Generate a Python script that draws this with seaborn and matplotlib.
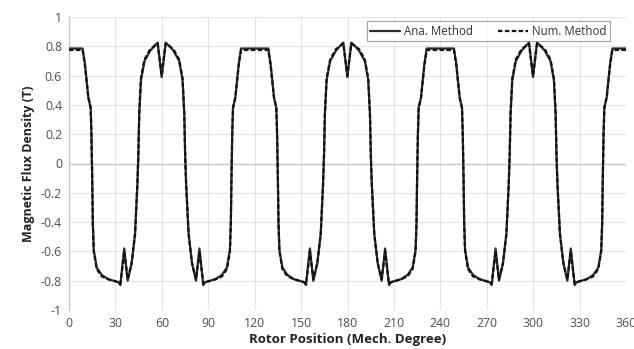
import matplotlib
matplotlib.use("Agg")
import matplotlib.pyplot as plt
import seaborn as sns
import pandas as pd

# Rotor position (mechanical degrees)
rotor_pos = [
    0, 8.8, 10.3, 12.5, 14.0, 14.5, 15.0, 15.4, 16.0, 17.9, 21.1, 25.4, 31.9, 33.2, 35.7, 37.9,
    40.5, 42.7, 44.2, 44.8, 45.4, 46.5, 48.8, 52.5, 55.0, 57.3, 59.9, 62.5, 65.0, 67.5, 71.2,
    73.4, 74.5, 75.1, 75.7, 77.3, 79.5, 82.1, 84.3, 86.8, 88.1, 94.6, 98.9, 102.1, 104.0,
    104.6, 105.0, 105.5, 106.0, 107.5, 109.7, 111.2,
    120, 128.8, 130.3, 132.5, 134.0, 134.5, 135.0, 135.4, 136.0, 137.9, 141.1, 145.4, 151.9,
    153.2, 155.7, 157.9, 160.5, 162.7, 164.2, 164.8, 165.4, 166.5, 168.8, 172.5, 175.0, 177.3,
    179.9, 182.5, 185.0, 187.5, 191.2, 193.4, 194.5, 195.1, 195.7, 197.3, 199.5, 202.1, 204.3,
    206.8, 208.1, 214.6, 218.9, 222.1, 224.0, 224.6, 225.0, 225.5, 226.0, 227.5, 229.7, 231.2,
    240, 248.8, 250.3, 252.5, 254.0, 254.5, 255.0, 255.4, 256.0, 257.9, 261.1, 265.4, 271.9,
    273.2, 275.7, 277.9, 280.5, 282.7, 284.2, 284.8, 285.4, 286.5, 288.8, 292.5, 295.0, 297.3,
    299.9, 302.5, 305.0, 307.5, 311.2, 313.4, 314.5, 315.1, 315.7, 317.3, 319.5, 322.1, 324.3,
    326.8, 328.1, 334.6, 338.9, 342.1, 344.0, 344.6, 345.0, 345.5, 346.0, 347.5, 349.7, 351.2,
    360,
]

# Analytical method (T)
ana_method = [
    0.785, 0.785, 0.68, 0.45, 0.38, 0.20, -0.10, -0.40, -0.59, -0.71, -0.76, -0.79, -0.81, -0.83, -0.58, -0.80,
    -0.68, -0.48, -0.14, 0.05, 0.34, 0.57, 0.70, 0.77, 0.80, 0.825, 0.59, 0.825, 0.80, 0.77, 0.70,
    0.57, 0.34, 0.05, -0.14, -0.48, -0.68, -0.80, -0.58, -0.83, -0.81, -0.79, -0.76, -0.71, -0.59,
    -0.40, -0.10, 0.20, 0.38, 0.45, 0.68, 0.785,
    0.785, 0.785, 0.68, 0.45, 0.38, 0.20, -0.10, -0.40, -0.59, -0.71, -0.76, -0.79, -0.81,
    -0.83, -0.58, -0.80, -0.68, -0.48, -0.14, 0.05, 0.34, 0.57, 0.70, 0.77, 0.80, 0.825,
    0.59, 0.825, 0.80, 0.77, 0.70, 0.57, 0.34, 0.05, -0.14, -0.48, -0.68, -0.80, -0.58,
    -0.83, -0.81, -0.79, -0.76, -0.71, -0.59, -0.40, -0.10, 0.20, 0.38, 0.45, 0.68, 0.785,
    0.785, 0.785, 0.68, 0.45, 0.38, 0.20, -0.10, -0.40, -0.59, -0.71, -0.76, -0.79, -0.81,
    -0.83, -0.58, -0.80, -0.68, -0.48, -0.14, 0.05, 0.34, 0.57, 0.70, 0.77, 0.80, 0.825,
    0.59, 0.825, 0.80, 0.77, 0.70, 0.57, 0.34, 0.05, -0.14, -0.48, -0.68, -0.80, -0.58,
    -0.83, -0.81, -0.79, -0.76, -0.71, -0.59, -0.40, -0.10, 0.20, 0.38, 0.45, 0.68, 0.785,
    0.785,
]

# Numerical method (T)
num_method = [
    0.775, 0.775, 0.67, 0.45, 0.38, 0.20, -0.10, -0.41, -0.60, -0.72, -0.77, -0.79, -0.81, -0.82, -0.60, -0.79,
    -0.68, -0.48, -0.14, 0.05, 0.34, 0.58, 0.71, 0.78, 0.80, 0.82, 0.60, 0.82, 0.80, 0.78, 0.71,
    0.58, 0.34, 0.05, -0.14, -0.48, -0.68, -0.79, -0.60, -0.82, -0.81, -0.79, -0.77, -0.72, -0.60,
    -0.41, -0.10, 0.20, 0.38, 0.45, 0.67, 0.775,
    0.775, 0.775, 0.67, 0.45, 0.38, 0.20, -0.10, -0.41, -0.60, -0.72, -0.77, -0.79, -0.81,
    -0.82, -0.60, -0.79, -0.68, -0.48, -0.14, 0.05, 0.34, 0.58, 0.71, 0.78, 0.80, 0.82,
    0.60, 0.82, 0.80, 0.78, 0.71, 0.58, 0.34, 0.05, -0.14, -0.48, -0.68, -0.79, -0.60,
    -0.82, -0.81, -0.79, -0.77, -0.72, -0.60, -0.41, -0.10, 0.20, 0.38, 0.45, 0.67, 0.775,
    0.775, 0.775, 0.67, 0.45, 0.38, 0.20, -0.10, -0.41, -0.60, -0.72, -0.77, -0.79, -0.81,
    -0.82, -0.60, -0.79, -0.68, -0.48, -0.14, 0.05, 0.34, 0.58, 0.71, 0.78, 0.80, 0.82,
    0.60, 0.82, 0.80, 0.78, 0.71, 0.58, 0.34, 0.05, -0.14, -0.48, -0.68, -0.79, -0.60,
    -0.82, -0.81, -0.79, -0.77, -0.72, -0.60, -0.41, -0.10, 0.20, 0.38, 0.45, 0.67, 0.775,
    0.775,
]

x_ticks = [0, 30, 60, 90, 120, 150, 180, 210, 240, 270, 300, 330, 360]
y_ticks = [-1, -0.8, -0.6, -0.4, -0.2, 0, 0.2, 0.4, 0.6, 0.8, 1]
y_tick_labels = ["-1", "-0.8", "-0.6", "-0.4", "-0.2", "0", "0.2", "0.4", "0.6", "0.8", "1"]

sns.set_style("white")
plt.rcParams["font.family"] = ["Open Sans", "DejaVu Sans"]

df = pd.DataFrame({"pos": rotor_pos, "ana": ana_method, "num": num_method})

fig = plt.figure(figsize=(6.34, 3.49), dpi=100)
ax = fig.add_axes([69 / 634, 1 - 310 / 349, (626 - 69) / 634, (310 - 17) / 349])

sns.lineplot(data=df, x="pos", y="ana", ax=ax, color="#2b2b2b", linewidth=1.6,
             label="Ana. Method", sort=False, zorder=3)
sns.lineplot(data=df, x="pos", y="num", ax=ax, color="#111111", linewidth=1.6,
             linestyle=(0, (2.0, 1.1)), label="Num. Method", sort=False, zorder=4)
for ln in ax.get_lines():
    ln.set_solid_joinstyle("round")
    ln.set_dash_joinstyle("round")

ax.set_xlim(0, 360)
ax.set_ylim(-1, 1)
ax.set_xticks(x_ticks)
ax.set_xticklabels([str(t) for t in x_ticks])
ax.set_yticks(y_ticks)
ax.set_yticklabels(y_tick_labels)
ax.grid(True, color="#e3e3e3", linewidth=0.8, zorder=0)
ax.set_axisbelow(True)
ax.axhline(0, color="#c8c8c8", linewidth=1.0, zorder=1)
for s in ["top", "right", "bottom"]:
    ax.spines[s].set_visible(False)
ax.spines["left"].set_color("#c8c8c8")
ax.spines["left"].set_linewidth(1.0)
ax.tick_params(axis="both", length=0, labelsize=8.8, labelcolor="#4d4d4d", pad=5)

ax.set_xlabel("Rotor Position (Mech. Degree)", fontsize=9.5, fontweight="bold",
              color="#222222", labelpad=2)
ax.set_ylabel("Magnetic Flux Density (T)", fontsize=9, fontweight="bold",
              color="#222222", labelpad=4)

leg = ax.legend(loc="upper right", bbox_to_anchor=(0.971, 0.986), ncol=2, fontsize=8.3,
                frameon=True, fancybox=False, handlelength=2.6, columnspacing=2.2,
                borderpad=0.32, handletextpad=0.3, borderaxespad=0.0)
leg.get_frame().set_edgecolor("#8c8c8c")
leg.get_frame().set_linewidth(0.8)
leg.set_zorder(6)
for t in leg.get_texts():
    t.set_color("#333333")

fig.savefig("out.png", dpi=100)
